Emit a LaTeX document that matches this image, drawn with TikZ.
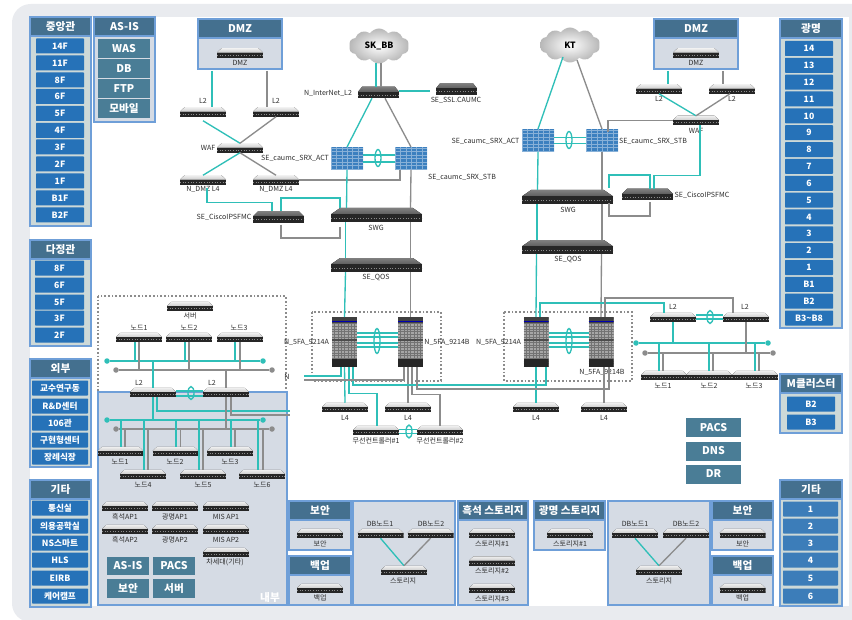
\documentclass[tikz,border=0pt]{standalone}
\usepackage{amsfonts,amsmath,amssymb}
\usepackage{color}
\usepackage{fontspec}
\usepackage{tikz}
\usetikzlibrary{calc,shapes.geometric,shapes.symbols}
\setmainfont{Noto Sans CJK KR}
\definecolor{bgpanel}{HTML}{E9EBEF}
\definecolor{hdrblue}{HTML}{44708F}
\definecolor{pnledge}{HTML}{6F9FD8}
\definecolor{pnlfill}{HTML}{D5DBE4}
\definecolor{colfill}{HTML}{CDD9D8}
\definecolor{flrblue}{HTML}{2672B8}
\definecolor{etcblue}{HTML}{3C7DB9}
\definecolor{tealbox}{HTML}{4A7D96}
\definecolor{linkteal}{HTML}{2FBFB8}
\definecolor{linkgray}{HTML}{8C8C8C}
\definecolor{lbltext}{HTML}{2E2E2E}
\def\ppbb{path picture bounding box}
\tikzset{
  tl/.style={draw=linkteal,line width=1pt},
  gr/.style={draw=linkgray,line width=1pt},
  lbl/.style={inner sep=0pt,text=lbltext,font=\fontsize{5.3}{6}\selectfont},
  pnl/.style 2 args={anchor=north west,inner sep=0pt,outer sep=0pt,minimum width=#1*0.75pt,minimum height=#2*0.75pt,draw=pnledge,line width=1pt,fill=pnlfill},
  colpnl/.style 2 args={pnl={#1}{#2},fill=colfill},
  hdr/.style={anchor=north west,inner sep=0pt,outer sep=0pt,minimum width=#1*0.75pt,minimum height=19*0.75pt,draw=pnledge,line width=1pt,fill=hdrblue,text=white,font=\fontsize{8}{9}\selectfont\bfseries},
  flr/.style={inner sep=0pt,minimum width=#1*0.75pt,minimum height=15*0.75pt,fill=flrblue,rounded corners=0.5pt,text=white,font=\fontsize{6.5}{7}\selectfont\bfseries},
  etcflr/.style={flr=#1,fill=etcblue},
  tbx/.style 2 args={inner sep=0pt,minimum width=#1*0.75pt,minimum height=#2*0.75pt,fill=tealbox,text=white,font=\fontsize{8}{9}\selectfont\bfseries},
  lag/.style={ellipse,draw=linkteal,line width=1pt,inner sep=0pt,minimum width=6*0.75pt,minimum height=#1*0.75pt},
  busdot/.style={circle,inner sep=0pt,minimum size=5.5*0.75pt,fill=#1},
  zonedash/.style={draw=linkgray,line width=0.8pt,dash pattern=on 1.3pt off 1.5pt},
  rackdev/.style n args={4}{rectangle,inner sep=0pt,outer sep=0pt,minimum width=#1*0.75pt,minimum height=#2*0.75pt,path picture={
    \fill [top color=#3,bottom color=#4] ($(\ppbb.north west)!.1!(\ppbb.north east)$) -- ($(\ppbb.north west)!.9!(\ppbb.north east)$) -- ($(\ppbb.east)!.1!(\ppbb.north east)$) -- ($(\ppbb.west)!.1!(\ppbb.north west)$) -- cycle;
    \fill [black!85] ($(\ppbb.west)!.1!(\ppbb.north west)$) rectangle (\ppbb.south east);
    \draw [black!45,line width=0.4pt,dash pattern=on 0.8pt off 1.2pt] ($(\ppbb.west)!.45!(\ppbb.south west)$) -- ($(\ppbb.east)!.45!(\ppbb.south east)$);
  }},
  srv/.style={rackdev={46}{9.5}{black!6}{black!35}},
  swgbox/.style={rackdev={91}{14}{black!50}{black!80}},
  ipsbox/.style={rackdev={#1}{11.5}{black!50}{black!80}},
  srxwall/.style={rectangle,inner sep=0pt,outer sep=0pt,minimum width=32*0.75pt,minimum height=23*0.75pt,fill=flrblue!90,path picture={
    \draw [flrblue!55!white,line width=0.2pt,xstep=4pt,ystep=2.6pt] (\ppbb.south west) grid (\ppbb.north east);
  }},
  chassis/.style={rectangle,inner sep=0pt,outer sep=0pt,minimum width=25*0.75pt,minimum height=50*0.75pt,fill=black!35,path picture={
    \draw [black!55,line width=0.25pt,xstep=2.5pt,ystep=2pt] (\ppbb.south west) grid (\ppbb.north east);
    \fill [black!75] (\ppbb.north west) rectangle ($(\ppbb.north east)!.12!(\ppbb.south east)$);
    \draw [blue!70!black,line width=0.7pt] ($(\ppbb.north west)!.09!(\ppbb.south west)$) -- ($(\ppbb.north east)!.09!(\ppbb.south east)$);
    \draw [black!70,line width=0.8pt] ($(\ppbb.north west)!.46!(\ppbb.south west)$) -- ($(\ppbb.north east)!.46!(\ppbb.south east)$);
    \fill [black!85] ($(\ppbb.north west)!.84!(\ppbb.south west)$) rectangle (\ppbb.south east);
  }},
  cloudnode/.style={shape=cloud,cloud puffs=10,cloud puff arc=110,aspect=1.6,inner sep=0pt,outer sep=0pt,minimum width=#1*0.75pt,minimum height=35*0.75pt,inner color=white,outer color=black!28,text=black,font=\fontsize{6.5}{7}\selectfont\bfseries},
}
\begin{document}
\begin{tikzpicture}[x=0.75pt,y=0.75pt,yscale=-1,xscale=1]
\useasboundingbox (0,0) rectangle (852,620);

%Background
\fill [bgpanel,rounded corners=14pt]  (12,4) rectangle (880,622) ;
\fill [white]  (30,17) rectangle (849,606) ;

% Left column panels
\draw (30,17) node (pnlCentral) [colpnl={61}{209}] {};
\draw (30,17) node (hdrCentral) [hdr=61] {중앙관};
\draw (60,46) node (flrC14) [flr=48] {14F};
\draw (60,63) node (flrC11) [flr=48] {11F};
\draw (60,80) node (flrC8) [flr=48] {8F};
\draw (60,96.5) node (flrC6) [flr=48] {6F};
\draw (60,113.5) node (flrC5) [flr=48] {5F};
\draw (60,130.5) node (flrC4) [flr=48] {4F};
\draw (60,147) node (flrC3) [flr=48] {3F};
\draw (60,164) node (flrC2) [flr=48] {2F};
\draw (60,181) node (flrC1) [flr=48] {1F};
\draw (60,198) node (flrCB1) [flr=48] {B1F};
\draw (60,215) node (flrCB2) [flr=48] {B2F};
\draw (94,17) node (pnlAsis) [pnl={61}{105}] {};
\draw (94,17) node (hdrAsis) [hdr=61] {AS-IS};
\draw (124,48.5) node (tbxWas) [tbx={52}{19}] {WAS};
\draw (124,68.5) node (tbxDb) [tbx={52}{19}] {DB};
\draw (124,88.5) node (tbxFtp) [tbx={52}{19}] {FTP};
\draw (124,108.5) node (tbxMobile) [tbx={52}{19}] {모바일};
\draw (30,240) node (pnlDajung) [colpnl={61}{106}] {};
\draw (30,240) node (hdrDajung) [hdr=61] {다정관};
\draw (59.5,268) node (flrD8) [flr=49] {8F};
\draw (59.5,285) node (flrD6) [flr=49] {6F};
\draw (59.5,302) node (flrD5) [flr=49] {5F};
\draw (59.5,318) node (flrD3) [flr=49] {3F};
\draw (59.5,335) node (flrD2) [flr=49] {2F};
\draw (30,359) node (pnlOuter) [colpnl={61}{108}] {};
\draw (30,359) node (hdrOuter) [hdr=61] {외부};
\draw (60,388) node (flrO1) [flr=56] {교수연구동};
\draw (60,406) node (flrO2) [flr=56] {R\&D센터};
\draw (60,423) node (flrO3) [flr=56] {106관};
\draw (60,440) node (flrO4) [flr=56] {구현형센터};
\draw (60,457) node (flrO5) [flr=56] {장례식장};
\draw (30,480) node (pnlEtcL) [colpnl={61}{127}] {};
\draw (30,480) node (hdrEtcL) [hdr=61] {기타};
\draw (60,508) node (flrE1) [flr=56] {통신실};
\draw (60,526) node (flrE2) [flr=56] {의용공학실};
\draw (60,543) node (flrE3) [flr=56] {NS스마트};
\draw (60,560) node (flrE4) [flr=56] {HLS};
\draw (60,578) node (flrE5) [flr=56] {EIRB};
\draw (60,596) node (flrE6) [flr=56] {케어캠프};

% Right column panels
\draw (780,19) node (pnlGm) [colpnl={62}{309}] {};
\draw (780,19) node (hdrGm) [hdr=62] {광명};
\draw (809,48.5) node (flrG14) [flr=48] {14};
\draw (809,65.3) node (flrG13) [flr=48] {13};
\draw (809,82.2) node (flrG12) [flr=48] {12};
\draw (809,99) node (flrG11) [flr=48] {11};
\draw (809,115.9) node (flrG10) [flr=48] {10};
\draw (809,132.7) node (flrG9) [flr=48] {9};
\draw (809,149.6) node (flrG8) [flr=48] {8};
\draw (809,166.4) node (flrG7) [flr=48] {7};
\draw (809,183.3) node (flrG6) [flr=48] {6};
\draw (809,200.1) node (flrG5) [flr=48] {5};
\draw (809,217) node (flrG4) [flr=48] {4};
\draw (809,233.8) node (flrG3) [flr=48] {3};
\draw (809,250.7) node (flrG2) [flr=48] {2};
\draw (809,267.5) node (flrG1) [flr=48] {1};
\draw (809,284.4) node (flrGB1) [flr=48] {B1};
\draw (809,301.2) node (flrGB2) [flr=48] {B2};
\draw (809,318) node (flrGB3) [flr=48] {B3\textasciitilde B8};
\draw (780,374) node (pnlMc) [colpnl={62}{59}] {};
\draw (780,374) node (hdrMc) [hdr=62] {M클러스터};
\draw (811,404) node (flrMB2) [flr=48] {B2};
\draw (811,422) node (flrMB3) [flr=48] {B3};
\draw (780,480) node (pnlEtcR) [colpnl={62}{126}] {};
\draw (780,480) node (hdrEtcR) [hdr=62] {기타};
\draw (810.5,509) node (flrR1) [etcflr=55] {1};
\draw (810.5,526) node (flrR2) [etcflr=55] {2};
\draw (810.5,543) node (flrR3) [etcflr=55] {3};
\draw (810.5,560) node (flrR4) [etcflr=55] {4};
\draw (810.5,578) node (flrR5) [etcflr=55] {5};
\draw (810.5,596) node (flrR6) [etcflr=55] {6};
\draw (713.5,427.5) node (tbxPacsR) [tbx={55}{19}] {PACS};
\draw (713.5,451) node (tbxDnsR) [tbx={55}{19}] {DNS};
\draw (713.5,474) node (tbxDrR) [tbx={55}{19}] {DR};

% Zones
\draw [zonedash]  (98,296) rectangle (286,392) ;
\draw [zonedash]  (312,312) rectangle (441,381) ;
\draw [zonedash]  (504,312) rectangle (632,381) ;
\draw (98,392) node (pnlInner) [pnl={189}{213}] {};
\draw (270,597) node (lblInner) [inner sep=0pt,text=white,font=\fontsize{8}{9}\selectfont\bfseries] {내부};

% Top left devices
\draw (198,19) node (dmzL) [pnl={84}{50}] {};
\draw (198,19) node (hdrDmzL) [hdr=84] {DMZ};
\draw (240,53) node (srvDmzL) [srv] {};
\draw (240,62.5) node (lblDmzL) [lbl] {DMZ};
\draw (203,112) node (l2La) [srv] {};
\draw (276,112) node (l2Lb) [srv] {};
\draw (203,101) node (lblL2La) [lbl] {L2};
\draw (276,101) node (lblL2Lb) [lbl] {L2};
\draw (240,148) node (wafL) [srv] {};
\draw (208,147.5) node (lblWafL) [lbl] {WAF};
\draw (203,180) node (ndmzA) [srv] {};
\draw (276,180) node (ndmzB) [srv] {};
\draw (203,189) node (lblNdmzA) [lbl] {N\_DMZ L4};
\draw (276,189) node (lblNdmzB) [lbl] {N\_DMZ L4};
\draw (278.5,217) node (ciscoL) [ipsbox=51] {};
\draw (224,217.5) node (lblCiscoL) [lbl] {SE\_CiscoIPSFMC};
\draw (379,46) node (skbb) [cloudnode=60] {SK\_BB};
\draw (378.5,92.5) node (inet) [ipsbox=41] {};
\draw (328,93) node (lblInet) [lbl] {N\_InterNet\_L2};
\draw (456.5,89) node (ssl) [ipsbox=41] {};
\draw (456,100) node (lblSsl) [lbl] {SE\_SSL.CAUMC};
\draw (347,158.5) node (srxLa) [srxwall] {};
\draw (411,158.5) node (srxLb) [srxwall] {};
\draw (378,158) node (lagSrxL) [lag=17] {};
\draw (295,158) node (lblSrxLa) [lbl] {SE\_caumc\_SRX\_ACT};
\draw (462,177) node (lblSrxLb) [lbl] {SE\_caumc\_SRX\_STB};
\draw (376.5,215) node (swgL) [swgbox] {};
\draw (376,228) node (lblSwgL) [lbl] {SWG};
\draw (376.5,265) node (qosL) [swgbox] {};
\draw (376,277.5) node (lblQosL) [lbl] {SE\_QOS};

% Top right devices
\draw (654,19) node (dmzR) [pnl={84}{50}] {};
\draw (654,19) node (hdrDmzR) [hdr=84] {DMZ};
\draw (696,53) node (srvDmzR) [srv] {};
\draw (696,62.5) node (lblDmzR) [lbl] {DMZ};
\draw (659,89) node (l2Ra) [srv] {};
\draw (732,89) node (l2Rb) [srv] {};
\draw (659,99) node (lblL2Ra) [lbl] {L2};
\draw (732,99) node (lblL2Rb) [lbl] {L2};
\draw (696,120.5) node (wafR) [srv] {};
\draw (696,131) node (lblWafR) [lbl] {WAF};
\draw (570,45) node (kt) [cloudnode=60] {KT};
\draw (538,140.5) node (srxRa) [srxwall] {};
\draw (602,140.5) node (srxRb) [srxwall] {};
\draw (569,140) node (lagSrxR) [lag=17] {};
\draw (485.5,141) node (lblSrxRa) [lbl] {SE\_caumc\_SRX\_ACT};
\draw (653,141) node (lblSrxRb) [lbl] {SE\_caumc\_SRX\_STB};
\draw (567.5,197) node (swgR) [swgbox] {};
\draw (568,210) node (lblSwgR) [lbl] {SWG};
\draw (567.5,247) node (qosR) [swgbox] {};
\draw (568,259.5) node (lblQosR) [lbl] {SE\_QOS};
\draw (647.5,194.5) node (ciscoR) [ipsbox=51] {};
\draw (702,195) node (lblCiscoR) [lbl] {SE\_CiscoIPSFMC};

% Chassis and lower core
\draw (344.5,342) node (faLa) [chassis] {};
\draw (410.5,342) node (faLb) [chassis] {};
\draw (377,341) node (lagFaL) [lag=25] {};
\draw (306.5,342) node (lblFaLa) [lbl] {N\_5FA\_9214A};
\draw (447,342) node (lblFaLb) [lbl] {N\_5FA\_9214B};
\draw (536,342) node (faRa) [chassis] {};
\draw (601,342) node (faRb) [chassis] {};
\draw (569,341) node (lagFaR) [lag=25] {};
\draw (498.5,342) node (lblFaRa) [lbl] {N\_5FA\_9214A};
\draw (602,372) node (lblFaRb) [lbl] {N\_5FA\_9214B};
\draw (287,377) node (lblN) [lbl] {N};
\draw (345,407.5) node (l4a) [srv] {};
\draw (408,407.5) node (l4b) [srv] {};
\draw (536,407.5) node (l4c) [srv] {};
\draw (604,407.5) node (l4d) [srv] {};
\draw (345,417.5) node (lblL4a) [lbl] {L4};
\draw (408,417.5) node (lblL4b) [lbl] {L4};
\draw (536,417.5) node (lblL4c) [lbl] {L4};
\draw (604,417.5) node (lblL4d) [lbl] {L4};
\draw (376,430.5) node (wlA) [srv] {};
\draw (440,430.5) node (wlB) [srv] {};
\draw (409,431.5) node (lagWl) [lag=13] {};
\draw (376,440.5) node (lblWlA) [lbl] {무선컨트롤러\#1};
\draw (440,440.5) node (lblWlB) [lbl] {무선컨트롤러\#2};

% Right cluster
\draw (673,317.5) node (l2Ma) [srv] {};
\draw (746,317.5) node (l2Mb) [srv] {};
\draw (673,307) node (lblL2Ma) [lbl] {L2};
\draw (745,307) node (lblL2Mb) [lbl] {L2};
\draw (710,317) node (lagL2M) [lag=13] {};
\draw (636,343) node (busMTa) [busdot=linkteal] {};
\draw (768,343) node (busMTb) [busdot=linkteal] {};
\draw (645,353) node (busMGa) [busdot=linkgray] {};
\draw (773,353) node (busMGb) [busdot=linkgray] {};
\draw (664,375.5) node (ndM1) [srv] {};
\draw (709,375.5) node (ndM2) [srv] {};
\draw (755,375.5) node (ndM3) [srv] {};
\draw (663,385.5) node (lblNdM1) [lbl] {노드1};
\draw (709,385.5) node (lblNdM2) [lbl] {노드2};
\draw (754,385.5) node (lblNdM3) [lbl] {노드3};

% Left cluster
\draw (190,306.5) node (srvTop) [srv] {};
\draw (190,316) node (lblSrvTop) [lbl] {서버};
\draw (139,337.5) node (ndU1) [srv] {};
\draw (189,337.5) node (ndU2) [srv] {};
\draw (240,337.5) node (ndU3) [srv] {};
\draw (139,328) node (lblNdU1) [lbl] {노드1};
\draw (189,328) node (lblNdU2) [lbl] {노드2};
\draw (239,328) node (lblNdU3) [lbl] {노드3};
\draw (107,361) node (busUTa) [busdot=linkteal] {};
\draw (263,361) node (busUTb) [busdot=linkteal] {};
\draw (116,370) node (busUGa) [busdot=linkgray] {};
\draw (272,370) node (busUGb) [busdot=linkgray] {};
\draw (153,392.5) node (l2Ia) [srv] {};
\draw (226,392.5) node (l2Ib) [srv] {};
\draw (139,383) node (lblL2Ia) [lbl] {L2};
\draw (212,383) node (lblL2Ib) [lbl] {L2};
\draw (191,393) node (lagL2I) [lag=13] {};
\draw (107,420) node (busLTa) [busdot=linkteal] {};
\draw (263,420) node (busLTb) [busdot=linkteal] {};
\draw (116,429) node (busLGa) [busdot=linkgray] {};
\draw (272,429) node (busLGb) [busdot=linkgray] {};
\draw (120.5,451.5) node (ndL1) [srv] {};
\draw (175.5,451.5) node (ndL2) [srv] {};
\draw (230,451.5) node (ndL3) [srv] {};
\draw (143,474.5) node (ndL4) [srv] {};
\draw (203,474.5) node (ndL5) [srv] {};
\draw (262,474.5) node (ndL6) [srv] {};
\draw (120,462) node (lblNdL1) [lbl] {노드1};
\draw (175,462) node (lblNdL2) [lbl] {노드2};
\draw (230,462) node (lblNdL3) [lbl] {노드3};
\draw (143,484.5) node (lblNdL4) [lbl] {노드4};
\draw (203,484.5) node (lblNdL5) [lbl] {노드5};
\draw (262,484.5) node (lblNdL6) [lbl] {노드6};
\draw (125,506.5) node (apA1) [srv] {};
\draw (175,506.5) node (apB1) [srv] {};
\draw (226,506.5) node (apC1) [srv] {};
\draw (125,516.5) node (lblApA1) [lbl] {흑석AP1};
\draw (175,516.5) node (lblApB1) [lbl] {광명AP1};
\draw (226,516.5) node (lblApC1) [lbl] {MIS AP1};
\draw (125,529.5) node (apA2) [srv] {};
\draw (175,529.5) node (apB2) [srv] {};
\draw (226,529.5) node (apC2) [srv] {};
\draw (125,539.5) node (lblApA2) [lbl] {흑석AP2};
\draw (175,539.5) node (lblApB2) [lbl] {광명AP2};
\draw (226,539.5) node (lblApC2) [lbl] {MIS AP2};
\draw (226,552.5) node (apNext) [srv] {};
\draw (225,562.5) node (lblApNext) [lbl] {차세대(기타)};
\draw (128,566) node (tbxAsisI) [tbx={42}{18}] {AS-IS};
\draw (174,566) node (tbxPacsI) [tbx={42}{18}] {PACS};
\draw (128,588.5) node (tbxSecI) [tbx={42}{19}] {보안};
\draw (174,588.5) node (tbxSrvI) [tbx={42}{19}] {서버};

% Bottom panels
\draw (289,501) node (pnlSecL) [pnl={62}{49}] {};
\draw (289,501) node (hdrSecL) [hdr=62] {보안};
\draw (320,533.5) node (srvSecL) [srv] {};
\draw (320,544) node (lblSecL) [lbl] {보안};
\draw (289,556) node (pnlBakL) [pnl={62}{49}] {};
\draw (289,556) node (hdrBakL) [hdr=62] {백업};
\draw (320,588.5) node (srvBakL) [srv] {};
\draw (320,598) node (lblBakL) [lbl] {백업};
\draw (353,501) node (pnlDbL) [pnl={102}{104}] {};
\draw (380.5,533.5) node (dbLa) [srv] {};
\draw (430.5,533.5) node (dbLb) [srv] {};
\draw (380,524) node (lblDbLa) [lbl] {DB노드1};
\draw (431,524) node (lblDbLb) [lbl] {DB노드2};
\draw (404,570.5) node (stL) [srv] {};
\draw (403,580.5) node (lblStL) [lbl] {스토리지};
\draw (458,501) node (pnlStH) [pnl={70}{104}] {};
\draw (458,501) node (hdrStH) [hdr=70] {흑석 스토리지};
\draw (492,533.5) node (stH1) [srv] {};
\draw (492,544) node (lblStH1) [lbl] {스토리지\#1};
\draw (492,561) node (stH2) [srv] {};
\draw (492,571) node (lblStH2) [lbl] {스토리지\#2};
\draw (492,588.5) node (stH3) [srv] {};
\draw (492,598.5) node (lblStH3) [lbl] {스토리지\#3};
\draw (534,501) node (pnlStG) [pnl={71}{49}] {};
\draw (534,501) node (hdrStG) [hdr=71] {광명 스토리지};
\draw (570,533.5) node (stG1) [srv] {};
\draw (570,544) node (lblStG1) [lbl] {스토리지\#1};
\draw (608,501) node (pnlDbR) [pnl={102}{104}] {};
\draw (635,533.5) node (dbRa) [srv] {};
\draw (686,533.5) node (dbRb) [srv] {};
\draw (635,524) node (lblDbRa) [lbl] {DB노드1};
\draw (686,524) node (lblDbRb) [lbl] {DB노드2};
\draw (659,570.5) node (stR) [srv] {};
\draw (659,580.5) node (lblStR) [lbl] {스토리지};
\draw (712,501) node (pnlSecR) [pnl={61}{49}] {};
\draw (712,501) node (hdrSecR) [hdr=61] {보안};
\draw (742.5,533.5) node (srvSecR) [srv] {};
\draw (742.5,544) node (lblSecR) [lbl] {보안};
\draw (712,556) node (pnlBakR) [pnl={61}{49}] {};
\draw (712,556) node (hdrBakR) [hdr=61] {백업};
\draw (742.5,588.5) node (srvBakR) [srv] {};
\draw (742.5,598) node (lblBakR) [lbl] {백업};

% Free ends
\coordinate (endNt) at (304,376);
\coordinate (endNg) at (304,380);
\coordinate (endIt) at (290,411);
\coordinate (endIg) at (290,415);

%Straight Lines DMZ left
\draw [tl]  ($(dmzL.south)+(-28,2)$) -- ($(l2La.north)+(9,0)$) ;
\draw [gr]  ($(dmzL.south)+(27,2)$) -- ($(l2Lb.north)+(-9,0)$) ;
\draw [tl]  ($(l2La.south)+(0,4)$) -- (wafL.north) ;
\draw [gr]  (l2Lb.south) -- (wafL.north) ;
\draw [tl]  (wafL.south) -- (ndmzA.north) ;
\draw [gr]  (wafL.south) -- (ndmzB.north) ;
\draw [tl]  ($(ndmzA.south)+(4,3)$) |- ($(ciscoL.north)+(-6.5,-9)$) -- ($(ciscoL.north)+(-6.5,0)$) ;
\draw [tl]  ($(ciscoL.north)+(2.5,0)$) |- ($(swgL.north)+(-36.5,-10)$) -- ($(swgL.north)+(-36.5,0)$) ;
\draw [gr]  ($(ciscoL.south)+(2.5,2)$) |- ($(swgL.south)+(-36.5,16)$) -- ($(swgL.south)+(-36.5,5)$) ;
\draw [gr]  ($(srxLb.south)+(-11,0)$) |- (ndmzB.east) ;

%Straight Lines core left
\draw [tl]  ($(skbb)+(-3,17)$) -- ($(inet.north)+(-2.5,0)$) ;
\draw [gr]  ($(skbb)+(2,17)$) -- ($(inet.north)+(2.5,0)$) ;
\draw [tl]  ($(inet.east)+(0,-1.5)$) -- ($(ssl.west)+(-6,2)$) ;
\draw [tl]  ($(inet.south)+(-6.5,0)$) -- (srxLa.north) ;
\draw [gr]  ($(inet.south)+(6.5,0)$) -- (srxLb.north) ;
\draw [tl]  ($(srxLa.east)+(0,-3.5)$) -- ($(srxLb.west)+(0,-3.5)$) ;
\draw [tl]  ($(srxLa.east)+(0,3.5)$) -- ($(srxLb.west)+(0,3.5)$) ;
\draw [tl]  (srxLa.south) -- ($(swgL.north)+(-30,0)$) ;
\draw [tl]  ($(swgL.south)+(-31,0)$) -- ($(qosL.north)+(-31,0)$) ;
\draw [tl]  ($(qosL.south)+(-31,0)$) -- (faLa.north) ;
\draw [gr]  (srxLb.south) -- ($(swgL.north)+(34,0)$) ;
\draw [gr]  ($(swgL.south)+(34,0)$) -- ($(qosL.north)+(34,0)$) ;
\draw [gr]  ($(qosL.south)+(34,0)$) -- (faLb.north) ;

%Straight Lines DMZ right
\draw [tl]  ($(dmzR.south)+(-28,2)$) -- ($(l2Ra.north)+(9,0)$) ;
\draw [gr]  ($(dmzR.south)+(27,2)$) -- ($(l2Rb.north)+(-9,0)$) ;
\draw [tl]  (l2Ra.south) -- (wafR.north) ;
\draw [gr]  ($(l2Rb.south)+(-2,0)$) -- (wafR.north) ;
\draw [gr]  (wafR.west) -| ($(srxRb.north)+(6,3)$) ;
\draw [tl]  ($(wafR.south)+(4,0)$) |- ($(ciscoR.north)+(6.5,-13.5)$) -- ($(ciscoR.north)+(6.5,0)$) ;
\draw [tl]  ($(ciscoR.north)+(2.5,0)$) |- ($(swgR.north)+(41.5,-15)$) -- ($(swgR.north)+(41.5,-2)$) ;
\draw [gr]  ($(ciscoR.south)+(2.5,2)$) |- ($(swgR.south)+(41.5,12)$) -- ($(swgR.south)+(41.5,-1)$) ;

%Straight Lines core right
\draw [tl]  ($(kt)+(-7,12)$) -- (srxRa.north) ;
\draw [gr]  ($(kt)+(7,15)$) -- (srxRb.north) ;
\draw [tl]  ($(srxRa.east)+(0,-3)$) -- ($(srxRb.west)+(0,-3)$) ;
\draw [tl]  ($(srxRa.east)+(0,3)$) -- ($(srxRb.west)+(0,3)$) ;
\draw [tl]  (srxRa.south) -- ($(swgR.north)+(-30,0)$) ;
\draw [tl]  ($(swgR.south)+(-30.5,0)$) -- ($(qosR.north)+(-30.5,0)$) ;
\draw [tl]  ($(qosR.south)+(-31,0)$) -- (faRa.north) ;
\draw [gr]  (srxRb.south) -- ($(swgR.north)+(34.5,0)$) ;
\draw [gr]  ($(swgR.south)+(34.5,0)$) -- ($(qosR.north)+(34.5,0)$) ;
\draw [gr]  ($(qosR.south)+(34,0)$) -- (faRb.north) ;

%Straight Lines between chassis
\draw [tl]  ($(faLa.east)+(0,-9)$) -- ($(faLb.west)+(0,-9)$) ;
\draw [tl]  ($(faLa.east)+(0,-5)$) -- ($(faLb.west)+(0,-5)$) ;
\draw [tl]  ($(faLa.east)+(0,1)$) -- ($(faLb.west)+(0,1)$) ;
\draw [tl]  ($(faLa.east)+(0,5)$) -- ($(faLb.west)+(0,5)$) ;
\draw [tl]  ($(faRa.east)+(0,-9)$) -- ($(faRb.west)+(0,-9)$) ;
\draw [tl]  ($(faRa.east)+(0,-5)$) -- ($(faRb.west)+(0,-5)$) ;
\draw [tl]  ($(faRa.east)+(0,1)$) -- ($(faRb.west)+(0,1)$) ;
\draw [tl]  ($(faRa.east)+(0,5)$) -- ($(faRb.west)+(0,5)$) ;

%Straight Lines under chassis
\draw [tl]  (faLa.south) -- (l4a.north) ;
\draw [gr]  ($(faLb.south)+(-2.5,0)$) -- (l4b.north) ;
\draw [tl]  (faRa.south) -- (l4c.north) ;
\draw [gr]  ($(faRb.south)+(3,0)$) -- (l4d.north) ;
\draw [tl]  ($(faLa.south)+(4.5,0)$) |- ($(wlA.north)+(1,-32.5)$) -- ($(wlA.north)+(1,0)$) ;
\draw [gr]  ($(faLb.south)+(1.5,0)$) |- ($(wlB.north)+(0,-31.5)$) -- (wlB.north) ;
\draw [tl]  ($(faLa.south)+(8.5,0)$) |- ($(faRa.south)+(10,18)$) -- ($(faRa.south)+(10,0)$) ;
\draw [gr]  ($(faLb.south)+(6.5,0)$) |- ($(faRb.south)+(8,22)$) -- ($(faRb.south)+(8,0)$) ;
\draw [tl]  ($(faLa.south)+(-3.5,0)$) |- (endNt) ;
\draw [gr]  ($(faLb.south)+(-6.5,0)$) |- (endNg) ;
\draw [tl]  ($(wlA.east)+(0,-1)$) -- ($(wlB.west)+(0,-1)$) ;
\draw [tl]  ($(wlA.east)+(0,3)$) -- ($(wlB.west)+(0,3)$) ;

%Straight Lines right cluster
\draw [tl]  ($(faRa.north)+(4,0)$) |- ($(l2Ma.north)+(-9,-9.75)$) -- ($(l2Ma.north)+(-9,0)$) ;
\draw [gr]  ($(faRb.north)+(4,0)$) |- ($(l2Mb.north)+(-13,-14.75)$) -- ($(l2Mb.north)+(-13,0)$) ;
\draw [tl]  ($(l2Ma.east)+(0,-2.5)$) -- ($(l2Mb.west)+(0,-2.5)$) ;
\draw [tl]  ($(l2Ma.east)+(0,1.5)$) -- ($(l2Mb.west)+(0,1.5)$) ;
\draw [tl]  (busMTa) -- (busMTb) ;
\draw [gr]  (busMGa) -- (busMGb) ;
\draw [tl]  (l2Ma.south) -- (l2Ma.south |- busMTa) ;
\draw [gr]  (l2Mb.south) -- (l2Mb.south |- busMGa) ;
\draw [tl]  ($(ndM1.north)+(-5,0)$) -- ($(ndM1.north)+(-5,-27.75)$) ;
\draw [gr]  ($(ndM1.north)+(-1,0)$) -- ($(ndM1.north)+(-1,-17.75)$) ;
\draw [tl]  (ndM2.north) -- ($(ndM2.north)+(0,-27.75)$) ;
\draw [gr]  ($(ndM2.north)+(4,0)$) -- ($(ndM2.north)+(4,-17.75)$) ;
\draw [tl]  (ndM3.north) -- ($(ndM3.north)+(0,-27.75)$) ;
\draw [gr]  ($(ndM3.north)+(4,0)$) -- ($(ndM3.north)+(4,-17.75)$) ;

%Straight Lines left cluster, upper bus
\draw [tl]  (busUTa) -- (busUTb) ;
\draw [gr]  (busUGa) -- (busUGb) ;
\draw [tl]  ($(ndU1.south)+(-4,0)$) -- ($(ndU1.south)+(-4,18.75)$) ;
\draw [gr]  (ndU1.south) -- ($(ndU1.south)+(0,27.75)$) ;
\draw [tl]  ($(ndU2.south)+(-4,0)$) -- ($(ndU2.south)+(-4,18.75)$) ;
\draw [gr]  (ndU2.south) -- ($(ndU2.south)+(0,27.75)$) ;
\draw [tl]  ($(ndU3.south)+(-5,0)$) -- ($(ndU3.south)+(-5,18.75)$) ;
\draw [gr]  (ndU3.south) -- ($(ndU3.south)+(0,27.75)$) ;
\draw [tl]  (l2Ia.north) -- (l2Ia.north |- busUTa) ;
\draw [gr]  (l2Ib.north) -- (l2Ib.north |- busUGa) ;
\draw [tl]  ($(l2Ia.east)+(0,-1.5)$) -- ($(l2Ib.west)+(0,-1.5)$) ;
\draw [tl]  ($(l2Ia.east)+(0,3.5)$) -- ($(l2Ib.west)+(0,3.5)$) ;
\draw [tl]  ($(l2Ia.south)+(4,0)$) |- (endIt) ;
\draw [gr]  ($(l2Ib.south)+(5,0)$) |- (endIg) ;

%Straight Lines left cluster, lower bus
\draw [tl]  (busLTa) -- (busLTb) ;
\draw [gr]  (busLGa) -- (busLGb) ;
\draw [tl]  (l2Ia.south) -- (l2Ia.south |- busLTa) ;
\draw [gr]  (l2Ib.south) -- (l2Ib.south |- busLGa) ;
\draw [tl]  ($(ndL1.north)+(0.5,0)$) -- ($(ndL1.north)+(0.5,-26.75)$) ;
\draw [gr]  ($(ndL1.north)+(4.5,0)$) -- ($(ndL1.north)+(4.5,-17.75)$) ;
\draw [tl]  ($(ndL2.north)+(0.5,0)$) -- ($(ndL2.north)+(0.5,-26.75)$) ;
\draw [gr]  ($(ndL2.north)+(5,0)$) -- ($(ndL2.north)+(5,-17.75)$) ;
\draw [tl]  ($(ndL3.north)+(1,0)$) -- ($(ndL3.north)+(1,-26.75)$) ;
\draw [gr]  ($(ndL3.north)+(5,0)$) -- ($(ndL3.north)+(5,-17.75)$) ;
\draw [tl]  ($(ndL4.north)+(1,0)$) -- ($(ndL4.north)+(1,-49.75)$) ;
\draw [gr]  ($(ndL4.north)+(5,0)$) -- ($(ndL4.north)+(5,-40.75)$) ;
\draw [tl]  ($(ndL5.north)+(-4,0)$) -- ($(ndL5.north)+(-4,-49.75)$) ;
\draw [gr]  (ndL5.north) -- ($(ndL5.north)+(0,-40.75)$) ;
\draw [tl]  ($(ndL6.north)+(-4,0)$) -- ($(ndL6.north)+(-4,-49.75)$) ;
\draw [gr]  ($(ndL6.north)+(1,0)$) -- ($(ndL6.north)+(1,-40.75)$) ;

%Straight Lines storage
\draw [tl]  (dbLa.south) -- (stL.north) ;
\draw [gr]  (dbLb.south) -- (stL.north) ;
\draw [tl]  (dbRa.south) -- (stR.north) ;
\draw [gr]  (dbRb.south) -- (stR.north) ;

\end{tikzpicture}
\end{document}
